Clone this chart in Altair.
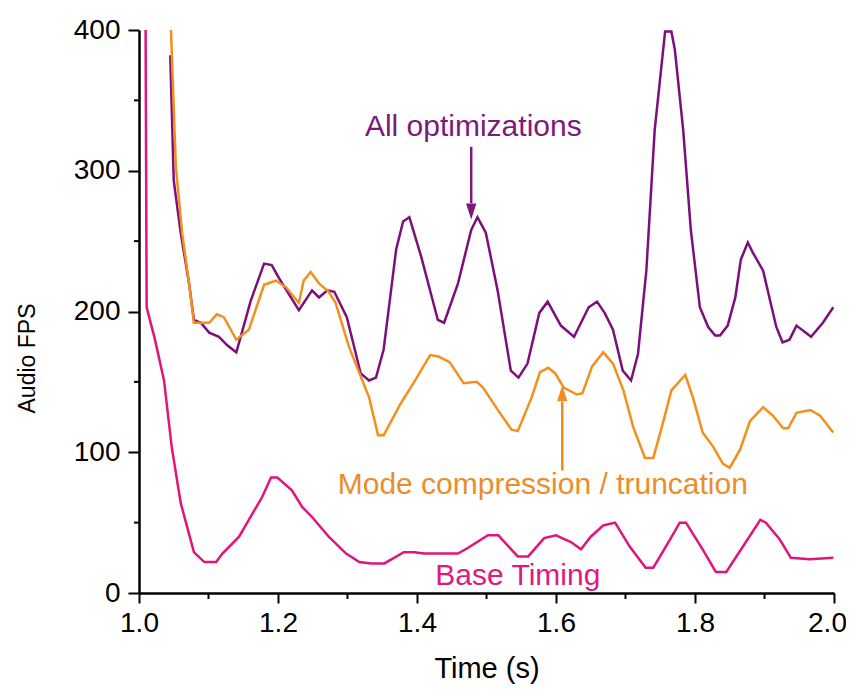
import altair as alt
import pandas as pd

# ---- data ----
purple_x = [1.045, 1.050, 1.060, 1.072, 1.079, 1.089, 1.101, 1.115, 1.127, 1.140, 1.148, 1.161,
            1.180, 1.191, 1.201, 1.230, 1.249, 1.259, 1.271, 1.281, 1.299, 1.319, 1.331, 1.341,
            1.352, 1.370, 1.380, 1.389, 1.406, 1.430, 1.439, 1.459, 1.478, 1.487, 1.499, 1.516,
            1.535, 1.546, 1.559, 1.576, 1.588, 1.607, 1.626, 1.647, 1.659, 1.670, 1.682, 1.696,
            1.708, 1.718, 1.730, 1.742, 1.748, 1.757, 1.766, 1.771, 1.783, 1.794, 1.807, 1.819,
            1.829, 1.836, 1.847, 1.858, 1.866, 1.876, 1.883, 1.898, 1.907, 1.917, 1.926, 1.936,
            1.946, 1.967, 1.984, 1.999]
purple_y = [382, 293, 256, 220, 194, 192, 185, 182, 176, 171, 185, 208,
            234, 233, 224, 201, 215, 210, 215, 214, 196, 156, 151, 153,
            173, 244, 264, 267, 239, 194, 192, 220, 258, 267, 256, 215,
            158, 153, 163, 199, 207, 190, 182, 203, 207, 199, 187, 158,
            151, 170, 229, 329, 357, 399, 399, 386, 329, 258, 203, 189,
            183, 183, 190, 210, 237, 249, 242, 229, 210, 189, 178, 180,
            190, 182, 192, 203]

orange_x = [1.046, 1.053, 1.062, 1.072, 1.079, 1.101, 1.112, 1.122, 1.140, 1.158, 1.180, 1.197,
            1.212, 1.230, 1.237, 1.247, 1.259, 1.273, 1.283, 1.302, 1.331, 1.344, 1.352, 1.377,
            1.396, 1.419, 1.431, 1.447, 1.467, 1.486, 1.495, 1.515, 1.536, 1.545, 1.565, 1.577,
            1.589, 1.599, 1.611, 1.630, 1.638, 1.652, 1.668, 1.682, 1.697, 1.711, 1.728, 1.740,
            1.754, 1.766, 1.786, 1.797, 1.811, 1.826, 1.840, 1.850, 1.865, 1.879, 1.898, 1.912,
            1.927, 1.934, 1.946, 1.966, 1.980, 1.999]
orange_y = [400, 303, 256, 220, 192, 192, 198, 196, 180, 187, 219, 222,
            217, 206, 222, 228, 220, 214, 206, 175, 139, 112, 112, 135,
            150, 169, 168, 164, 149, 150, 146, 131, 116, 115, 139, 157,
            160, 156, 146, 141, 142, 161, 171, 163, 144, 118, 96, 96,
            121, 144, 155, 139, 114, 104, 92, 89, 102, 122, 132, 126,
            117, 117, 128, 130, 126, 114]

pink_x = [1.0095, 1.011, 1.023, 1.036, 1.047, 1.060, 1.079, 1.094, 1.111, 1.120, 1.144, 1.158,
          1.177, 1.190, 1.199, 1.220, 1.235, 1.249, 1.273, 1.298, 1.317, 1.334, 1.353, 1.381,
          1.396, 1.410, 1.459, 1.473, 1.502, 1.517, 1.545, 1.560, 1.583, 1.600, 1.622, 1.636,
          1.650, 1.668, 1.685, 1.706, 1.729, 1.740, 1.764, 1.778, 1.787, 1.811, 1.830, 1.845,
          1.869, 1.894, 1.902, 1.922, 1.938, 1.965, 1.999]
pink_y = [400, 203, 180, 151, 104, 64, 29, 22, 22, 28, 40, 52,
          68, 82, 82, 73, 61, 54, 40, 28, 22, 21, 21, 29,
          29, 28, 28, 32, 41, 41, 26, 26, 39, 41, 36, 31,
          40, 48, 50, 33, 18, 18, 38, 50, 50, 31, 15, 15,
          33, 52, 50, 38, 25, 24, 25]

y_major = [0, 100, 200, 300, 400]
y_minor = [50, 150, 250, 350]
x_major = [1.0, 1.2, 1.4, 1.6, 1.8, 2.0]
x_minor = [1.1, 1.3, 1.5, 1.7, 1.9]

ann_text = ["All optimizations", "Mode compression / truncation", "Base Timing"]
ann_x = [1.481, 1.581, 1.545]
ann_y = [331, 77, 12]
ann_color = ["#7B1A7B", "#EA8E2A", "#E0197F"]

arrow_x = [1.478, 1.609]
arrow_y1 = [317, 87]
arrow_y2 = [277, 136]
head_y = [271, 142]
head_shape = ["M-0.65,-1L0.65,-1L0,1Z", "M-0.65,1L0.65,1L0,-1Z"]
arrow_color = ["#7B1A7B", "#F08C1E"]

PURPLE = "#7D0F7D"
ORANGE = "#F3901C"
PINK = "#E0147C"
FONT = "Liberation Sans"

xs = alt.Scale(domain=[1.0, 2.0], nice=False, zero=False)
ys = alt.Scale(domain=[0, 400], nice=False)

xaxis = alt.Axis(values=x_major, format=".1f", title="Time (s)", grid=False,
                 tickSize=10, tickWidth=2, tickColor="black", domainColor="black",
                 domainWidth=2.5, labelFont=FONT, labelFontSize=28, labelColor="black",
                 labelPadding=6,
                 labelOffset={"condition": {"test": "datum.value > 1.95", "value": -7},
                              "value": 0},
                 titleFont=FONT, titleFontSize=29, titleFontWeight="normal",
                 titleColor="black", titlePadding=17, labelFlush=False)
yaxis = alt.Axis(values=y_major, title="Audio FPS", grid=False,
                 tickSize=11, tickWidth=2, tickColor="black", domainColor="black",
                 domainWidth=2.5, labelFont=FONT, labelFontSize=28, labelColor="black",
                 labelPadding=8, titleFont=FONT, titleFontSize=23, titleFontWeight="normal",
                 titleColor="black", titlePadding=34, titleY=328, labelFlush=False)


def X(field):
    return alt.X(field, scale=xs, axis=xaxis)


def Y(field):
    return alt.Y(field, scale=ys, axis=yaxis)


def series(xv, yv, color):
    df = pd.DataFrame({"x": xv, "y": yv})
    return alt.Chart(df).mark_line(color=color, strokeWidth=2.5, clip=True).encode(
        x=X("x:Q"), y=Y("y:Q"))


base_layers = [
    series(purple_x, purple_y, PURPLE),
    series(orange_x, orange_y, ORANGE),
    series(pink_x, pink_y, PINK),
]

ymin_df = pd.DataFrame({"y": y_minor})
xmin_df = pd.DataFrame({"x": x_minor})
minor_y = alt.Chart(ymin_df).mark_rule(color="black", strokeWidth=2, clip=False).encode(
    y=Y("y:Q"), x=alt.value(-5), x2=alt.value(0))
minor_x = alt.Chart(xmin_df).mark_rule(color="black", strokeWidth=2, clip=False).encode(
    x=X("x:Q"), y=alt.value(563), y2=alt.value(569))

arr_df = pd.DataFrame({"x": arrow_x, "y": arrow_y1, "y2": arrow_y2, "hy": head_y,
                       "shape": head_shape, "c": arrow_color})
arrows = alt.Chart(arr_df).mark_rule(strokeWidth=2.5).encode(
    x=X("x:Q"), y=Y("y:Q"), y2="y2:Q",
    color=alt.Color("c:N", scale=None))
heads = alt.Chart(arr_df).mark_point(filled=True, size=256, opacity=1).encode(
    x=X("x:Q"), y=Y("hy:Q"),
    shape=alt.Shape("shape:N", scale=None),
    color=alt.Color("c:N", scale=None))

ann_df = pd.DataFrame({"t": ann_text, "x": ann_x, "y": ann_y, "c": ann_color})
labels = alt.Chart(ann_df).mark_text(font=FONT, fontSize=30, align="center",
                                     baseline="middle").encode(
    x=X("x:Q"), y=Y("y:Q"),
    text="t:N",
    color=alt.Color("c:N", scale=None))

chart = alt.layer(*base_layers, minor_y, minor_x, arrows, heads, labels).properties(
    width=695, height=563,
    background="white",
    autosize=alt.AutoSizeParams(type="none"),
    padding={"left": 131, "top": 22, "right": 12, "bottom": 91},
).configure_view(strokeWidth=0, stroke="transparent")

chart.save("out.html", embed_options={"renderer": "svg", "actions": False})
